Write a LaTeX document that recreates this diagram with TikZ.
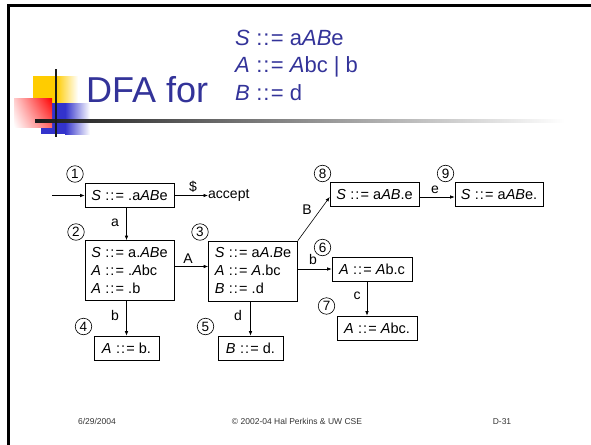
\documentclass[tikz,border=0pt]{standalone}
\usepackage{fontspec}
\setmainfont{Liberation Sans}
\usetikzlibrary{arrows.meta,calc,shadings}

\definecolor{titleblue}{HTML}{333399}
\definecolor{decoyellow}{HTML}{FFCC00}
\definecolor{decoblue}{HTML}{3333CC}
\definecolor{decored}{HTML}{FF0000}

% italic grammar symbol
\newcommand\gsym[1]{\textit{#1}}
% the production sign, a little spread out
\newcommand\prodsign{\mbox{\kern0.5pt:\kern0.9pt:\kern1.3pt=}}

\begin{document}
\begin{tikzpicture}[x=1pt,y=-1pt,
  itembox/.style={draw, line width=0.6pt, minimum height=24pt, inner sep=0pt,
    font=\fontsize{14.5}{18}\selectfont},
  bigbox/.style={itembox, minimum height=60pt, minimum width=89pt, align=left},
  statenum/.style={circle, draw, line width=0.6pt, minimum size=16.5pt, inner sep=0pt,
    font=\fontsize{13.5}{13.5}\selectfont},
  arr/.style={-{Latex[length=4.5pt,width=3.5pt]}, line width=0.6pt},
  edgelbl/.style={inner sep=0pt, font=\fontsize{14}{14}\selectfont},
  gram/.style={anchor=base west, inner sep=0pt, text=titleblue,
    font=\fontsize{22}{22}\selectfont},
  footer/.style={inner sep=0pt, font=\fontsize{8.5}{10}\selectfont, text=black!80}]

\useasboundingbox (0,0) rectangle (591,444);
\clip (0,0) rectangle (591,444);

% slide frame
\draw[line width=3pt] (8,460) -- (8,6) -- (600,6);

% title decoration
\fill[decoyellow] (33,76) rectangle (56,103);
\shade[left color=decoyellow, right color=white] (56,76) rectangle (78,103);
\fill[decoblue] (41,103) rectangle (65,134);
\shade[left color=decoblue, right color=white] (65,103) rectangle (90,134);
\shade[upper left=decored!20, upper right=decored, lower left=white, lower right=decored!60]
  (14,98) rectangle (52,127);
\shade[left color=black!90, right color=white] (35,119.8) rectangle (565,122.3);
\draw[line width=2.5pt, black!90] (56,69) -- (56,137);

% title and grammar
\node[anchor=base west, inner sep=0pt, text=titleblue, font=\fontsize{36}{36}\selectfont]
  (title) at (86,102) {DFA for};
\node[gram] (g1) at (235,45.5) {\gsym{S} \prodsign{} a\gsym{AB}e};
\node[gram] (g2) at (235,72.5) {\gsym{A} \prodsign{} \gsym{A}bc | b};
\node[gram] (g3) at (235,100) {\gsym{B} \prodsign{} d};

% item sets
\node[itembox, minimum width=89pt] (n1) at (129.5,195.5) {\gsym{S} \prodsign{} .a\gsym{AB}e};
\node[bigbox] (n2) at (129.5,270.5)
  {\gsym{S} \prodsign{} a.\gsym{AB}e\\\gsym{A} \prodsign{} .\gsym{A}bc\\\gsym{A} \prodsign{} .b};
\node[bigbox] (n3) at (253,271)
  {\gsym{S} \prodsign{} a\gsym{A}.\gsym{B}e\\\gsym{A} \prodsign{} \gsym{A}.bc\\\gsym{B} \prodsign{} .d};
\node[itembox, minimum width=65pt] (n4) at (126.5,348) {\gsym{A} \prodsign{} b.};
\node[itembox, minimum width=65pt] (n5) at (250.5,348) {\gsym{B} \prodsign{} d.};
\node[itembox, minimum width=80pt] (n6) at (372,269) {\gsym{A} \prodsign{} \gsym{A}b.c};
\node[itembox, minimum width=80pt] (n7) at (377,328) {\gsym{A} \prodsign{} \gsym{A}bc.};
\node[itembox, minimum width=89pt] (n8) at (374.5,194.5) {\gsym{S} \prodsign{} a\gsym{AB}.e};
\node[itembox, minimum width=88pt] (n9) at (499,194.5) {\gsym{S} \prodsign{} a\gsym{AB}e.};

% state numbers
\node[statenum] (c1) at (75,174) {1};
\node[statenum] (c2) at (76,232) {2};
\node[statenum] (c3) at (200,232) {3};
\node[statenum] (c4) at (83.5,326.5) {4};
\node[statenum] (c5) at (205.5,326.5) {5};
\node[statenum] (c6) at (322.5,247.5) {6};
\node[statenum] (c7) at (326.5,306) {7};
\node[statenum] (c8) at (322.5,173.5) {8};
\node[statenum] (c9) at (445.5,173.5) {9};

% accept target and start point
\node[edgelbl, anchor=west] (acc) at (208,195.5) {accept};
\coordinate (start) at (52,195.5);

% transitions
\draw[arr] (start) -- (n1.west);
\draw[arr] (n1.east) -- (acc.west);
\draw[arr] (n1.south -| n4) -- (n2.north -| n4);
\draw[arr] ([yshift=4pt]n2.east) -- ([yshift=4pt]n2.east -| n3.west);
\draw[arr] (n2.south -| n4) -- (n4.north);
\draw[arr] (n3.south -| n5) -- (n5.north);
\draw[arr] (n3.north east) -- ([yshift=-2.5pt]n8.west);
\draw[arr] (n3.east |- n6) -- (n6.west);
\draw[arr] ([yshift=-2.5pt]n8.east) -- ([yshift=-2.5pt]n8.east -| n9.west);
\draw[arr] ([xshift=-5pt]n6.south) -- ([xshift=-5pt]n6.south |- n7.north);

% transition labels
\node[edgelbl] (ldollar) at (193,187) {\$};
\node[edgelbl] (la) at (115,223) {a};
\node[edgelbl] (lA) at (188,259) {A};
\node[edgelbl] (lB) at (307,210) {B};
\node[edgelbl] (lb6) at (313,259.5) {b};
\node[edgelbl] (le) at (435,190) {e};
\node[edgelbl] (lc) at (357,296) {c};
\node[edgelbl] (ld) at (238,315.5) {d};
\node[edgelbl] (lb4) at (115,315) {b};

% footer
\node[footer] (fdate) at (97,421.5) {6/29/2004};
\node[footer] (fcopy) at (297,421.5) {© 2002-04 Hal Perkins \& UW CSE};
\node[footer] (fpage) at (502,421.5) {D-31};
\end{tikzpicture}
\end{document}
